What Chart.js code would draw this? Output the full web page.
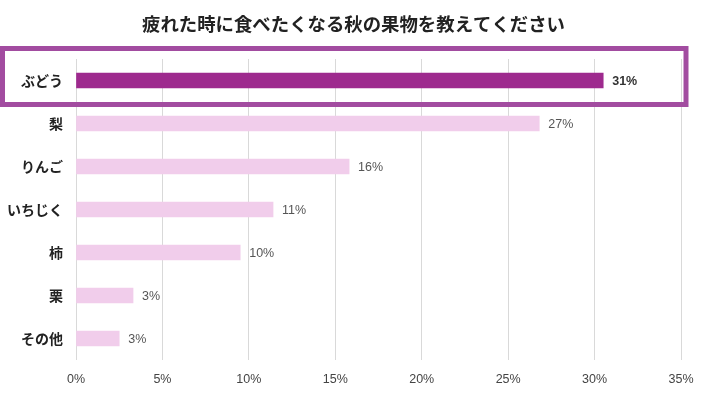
<!DOCTYPE html>
<html>
<head>
<meta charset="utf-8">
<script src="https://cdn.jsdelivr.net/npm/chart.js@4"></script>
<style>
  html, body { margin: 0; padding: 0; background: #fff; }
  #wrap { width: 707px; height: 393px; }
</style>
</head>
<body>
<div id="wrap"><canvas id="chart" width="707" height="393"></canvas></div>
<script>
const title = "疲れた時に食べたくなる秋の果物を教えてください";
const categories = ["ぶどう", "梨", "りんご", "いちじく", "柿", "栗", "その他"];
const values = [30.5, 26.8, 15.8, 11.4, 9.5, 3.3, 2.5];
const xTicks = [0, 5, 10, 15, 20, 25, 30, 35];

const highlightIndex = 0;
const mainColor = "#9e2a8e";
const lightColor = "#f1cdeb";
const boxColor = "#a24ca0";
const fontFamily = "'Noto Sans CJK JP', 'Liberation Sans', sans-serif";

// title centred on the whole canvas, not the padded box
const pageTitle = {
    id: "pageTitle",
    afterDraw(chart) {
        const ctx = chart.ctx;
        ctx.save();
        ctx.font = "bold 18.4px " + fontFamily;
        ctx.fillStyle = "#222";
        ctx.textAlign = "center";
        ctx.textBaseline = "middle";
        ctx.fillText(title, chart.width / 2, 24);
        ctx.restore();
    }
};

// value labels at bar ends
const valueLabels = {
    id: "valueLabels",
    afterDatasetsDraw(chart) {
        const ctx = chart.ctx;
        const meta = chart.getDatasetMeta(0);
        ctx.save();
        ctx.textBaseline = "middle";
        ctx.textAlign = "left";
        meta.data.forEach((bar, i) => {
            const hi = i === highlightIndex;
            ctx.font = (hi ? "bold " : "") + "12.5px 'Liberation Sans', sans-serif";
            ctx.fillStyle = hi ? "#333" : "#555";
            ctx.fillText(Math.round(values[i]) + "%", bar.x + 9, bar.y + 1);
        });
        ctx.restore();
    }
};

// frame around the highlighted row
const highlightBox = {
    id: "highlightBox",
    afterDraw(chart) {
        const ctx = chart.ctx;
        const y = chart.scales.y.getPixelForValue(highlightIndex);
        const x = chart.scales.x;
        ctx.save();
        ctx.strokeStyle = boxColor;
        ctx.lineWidth = 5;
        ctx.strokeRect(2.5, y - 32, x.right + 2.5, 56);
        ctx.restore();
    }
};

new Chart(document.getElementById("chart"), {
    type: "bar",
    data: {
        labels: categories,
        datasets: [{
            data: values,
            backgroundColor: values.map((v, i) => i === highlightIndex ? mainColor : lightColor),
            barThickness: 15,
            borderWidth: 0
        }]
    },
    options: {
        indexAxis: "y",
        responsive: false,
        animation: false,
        layout: { padding: { top: 59, right: 26, bottom: -6, left: 0 } },
        plugins: {
            legend: { display: false },
            tooltip: { enabled: false },
            title: { display: false }
        },
        scales: {
            x: {
                min: 0,
                max: 35,
                afterBuildTicks(scale) {
                    scale.ticks = xTicks.map(v => ({ value: v }));
                },
                grid: { color: "#d9d9d9", drawTicks: false },
                border: { display: false },
                ticks: {
                    color: "#444",
                    padding: 12,
                    font: { family: "'Liberation Sans', sans-serif", size: 12.5 },
                    callback: v => v + "%"
                }
            },
            y: {
                afterFit(scale) { scale.width = 76; },
                grid: { display: false, drawTicks: false },
                border: { display: false },
                ticks: {
                    color: "#222",
                    padding: 13,
                    font: { family: fontFamily, size: 14, weight: "bold" }
                }
            }
        }
    },
    plugins: [valueLabels, highlightBox, pageTitle]
});
</script>
</body>
</html>
